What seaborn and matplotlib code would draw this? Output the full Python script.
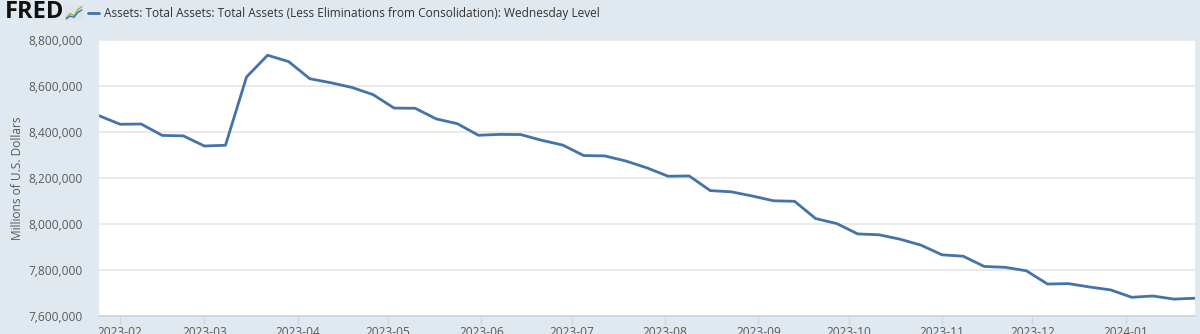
import numpy as np
import pandas as pd
import matplotlib
matplotlib.use("Agg")
import matplotlib.pyplot as plt
import matplotlib.dates as mdates
from matplotlib.ticker import FuncFormatter
import seaborn as sns

# ---- data (Millions of U.S. Dollars, Wednesday levels) ----
dates = pd.date_range("2023-01-25", "2024-01-24", freq="7D")
values = [
    8471006, 8433649, 8434758, 8385189, 8383225, 8339149, 8342283, 8639300,
    8733787, 8705942, 8631629, 8614175, 8593622, 8562768, 8503994, 8503198,
    8456997, 8436209, 8385888, 8389492, 8388911, 8364022, 8343195, 8297573,
    8296011, 8273760, 8244007, 8207660, 8209016, 8145197, 8139941, 8121566,
    8100946, 8098735, 8023659, 8002025, 7956773, 7953258, 7934020, 7908085,
    7865891, 7860011, 7815451, 7811624, 7796627, 7739069, 7740689, 7726091,
    7713406, 7681325, 7686998, 7673453, 7677321,
]
series_label = "Assets: Total Assets: Total Assets (Less Eliminations from Consolidation): Wednesday Level"
y_label = "Millions of U.S. Dollars"
y_ticks = [7600000, 7800000, 8000000, 8200000, 8400000, 8600000, 8800000]

df = pd.DataFrame({"date": dates, "value": values})

sns.set_theme(style="white")
plt.rcParams["font.family"] = ["Open Sans", "DejaVu Sans"]

BG = "#E1E9F0"
LINE = "#4572A7"
TXT = "#595959"
FS = 8.6

fig = plt.figure(figsize=(12, 3.34), dpi=100, facecolor=BG)
ax = fig.add_axes([99 / 1200, 1 - 316 / 334, (1195 - 99) / 1200, (316 - 40) / 334])
ax.set_facecolor("white")

sns.lineplot(data=df, x="date", y="value", ax=ax, color=LINE, linewidth=2.0)

ax.set_xlim(dates[0], dates[-1])
ax.set_ylim(y_ticks[0], y_ticks[-1])
ax.set_yticks(y_ticks)
ax.yaxis.set_major_formatter(FuncFormatter(lambda v, p: f"{int(v):,}"))
ax.xaxis.set_major_locator(mdates.MonthLocator())
ax.xaxis.set_major_formatter(mdates.DateFormatter("%Y-%m"))

ax.grid(axis="y", color="#E6E6E6", linewidth=1.2)
ax.grid(axis="x", visible=False)
for s in ["top", "right", "left"]:
    ax.spines[s].set_visible(False)
ax.spines["bottom"].set_color("#C8D6E3")
ax.spines["bottom"].set_linewidth(1.2)

ax.tick_params(axis="y", length=0, pad=12, labelsize=FS, labelcolor=TXT)
ax.tick_params(axis="x", length=6, width=1, color="#C8D6E3", pad=1,
               labelsize=FS, labelcolor=TXT, bottom=True)

ax.set_xlabel("")
ax.set_ylabel(y_label, fontsize=FS, color=TXT)
ax.yaxis.set_label_coords((24 - 99) / 1096, 0.5)

# ---- header ----
fig.text(5 / 1200, 1 - 12 / 334, "FRED", fontsize=17, fontweight="bold",
         color="#111111", va="center", ha="left")
# small FRED chart icon (decoration)
icon = fig.add_axes([65 / 1200, 1 - 21 / 334, 18 / 1200, 16 / 334])
icon.set_facecolor("#DDE3E8")
icon.plot([0, 1, 2, 3, 4], [0.5, 1.5, 1.0, 2.5, 3.2], color="#7FBF5A", lw=1)
icon.plot([0, 1, 2, 3, 4], [0.2, 0.9, 0.6, 1.8, 2.4], color="#4572A7", lw=1)
icon.set_xlim(-0.3, 4.3)
icon.set_ylim(-0.3, 3.6)
icon.set_xticks([])
icon.set_yticks([])
for s in icon.spines.values():
    s.set_visible(False)

fig.lines.append(plt.Line2D([88 / 1200, 99 / 1200], [1 - 13 / 334, 1 - 13 / 334],
                            transform=fig.transFigure, color=LINE, lw=2))
fig.text(104 / 1200, 1 - 13 / 334, series_label, fontsize=FS, color="#333333",
         va="center", ha="left")

fig.savefig("out.png", dpi=100, facecolor=BG)
